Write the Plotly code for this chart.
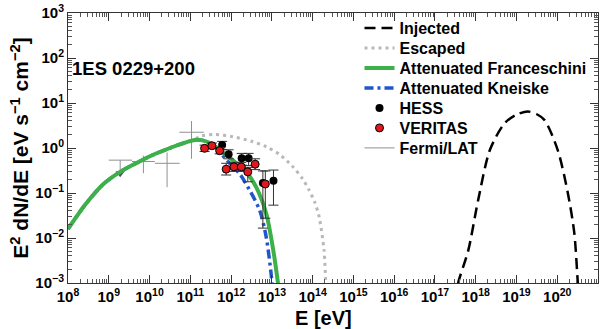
import numpy as np
import plotly.graph_objects as go

# values: log10(E [eV]) and log10(E^2 dN/dE)
franc_log_e = [8.0, 8.43, 8.87, 9.28, 9.69, 10.09, 10.5, 10.91, 11.11, 11.3, 11.5,
               11.72, 12.04, 12.37, 12.61, 12.86, 13.02, 13.15, 13.2]
franc_log_f = [-1.80, -1.25, -0.80, -0.53, -0.33, -0.15, 0.0, 0.13, 0.18, 0.17, 0.10,
               -0.04, -0.27, -0.53, -0.86, -1.45, -2.19, -3.0, -3.4]

kneis_log_e = [8.0, 8.43, 8.87, 9.28, 9.69, 10.09, 10.5, 10.91, 11.11, 11.3, 11.5,
               11.7, 11.88, 12.2, 12.45, 12.7, 12.86, 12.98, 13.03]
kneis_log_f = [-1.80, -1.25, -0.80, -0.53, -0.33, -0.15, 0.0, 0.13, 0.18, 0.17, 0.10,
               -0.06, -0.26, -0.56, -0.93, -1.38, -1.97, -2.78, -3.3]

esc_log_e = [8.0, 8.43, 8.87, 9.28, 9.69, 10.09, 10.5, 10.91, 11.11, 11.23, 11.6,
             12.04, 12.5, 12.86, 13.2, 13.51, 13.75, 13.91, 14.05, 14.16, 14.28, 14.32, 14.35]
esc_log_f = [-1.80, -1.25, -0.80, -0.53, -0.33, -0.15, 0.0, 0.13, 0.19, 0.26, 0.30,
             0.25, 0.15, 0.03, -0.15, -0.41, -0.68, -0.93, -1.2, -1.53, -2.27, -2.93, -3.3]

inj_log_e = [17.5, 17.57, 17.82, 18.06, 18.35, 18.71, 19.0, 19.28, 19.5, 19.69,
             20.01, 20.26, 20.42, 20.5, 20.53]
inj_log_f = [-3.4, -3.0, -2.27, -1.16, -0.04, 0.55, 0.74, 0.81, 0.75, 0.62,
             -0.04, -1.0, -1.9, -2.93, -3.3]

# HESS points
hess_log_e = [11.78, 11.94, 12.26, 12.43, 12.78, 13.04]
hess_log_f = [0.067, -0.14, -0.23, -0.23, -0.78, -0.73]
hess_up = [0.08, 0.10, 0.11, 0.11, 0.27, 0.24]
hess_dn = [0.10, 0.10, 0.15, 0.16, 1.0, 0.54]

# VERITAS points
ver_log_e = [11.35, 11.53, 11.72, 11.88, 12.07, 12.25, 12.41, 12.59, 12.84]
ver_log_f = [-0.007, 0.05, -0.06, -0.47, -0.42, -0.42, -0.53, -0.36, -0.80]
ver_up = [0.07, 0.06, 0.07, 0.13, 0.10, 0.10, 0.10, 0.12, 0.29]
ver_dn = [0.07, 0.06, 0.07, 0.13, 0.10, 0.10, 0.22, 0.12, 0.76]

# Fermi/LAT crosses (first one is an upper limit)
fermi_log_e = [9.28, 9.85, 10.43, 11.03]
fermi_log_e_lo = [9.0, 9.57, 10.13, 10.73]
fermi_log_e_hi = [9.57, 10.13, 10.74, 11.33]
fermi_log_f = [-0.27, -0.30, -0.34, 0.35]
fermi_log_f_lo = [-0.56, -0.56, -0.87, -0.24]
fermi_log_f_hi = [-0.27, -0.17, -0.10, 0.60]
fermi_ul = [True, False, False, False]

x_decades = list(range(8, 21))
y_decades = list(range(-3, 4))

p = lambda a: np.power(10.0, np.array(a, dtype=float))
pow_labels = lambda ds: ["10<sup>%s</sup>" % ("\u2212%d" % -d if d < 0 else d) for d in ds]

FONT = "Liberation Sans, Arial, sans-serif"

fig = go.Figure()

# Fermi crosses as segments
fx, fy = [], []
for i in range(len(fermi_log_e)):
    fx += [fermi_log_e_lo[i], fermi_log_e_hi[i], None, fermi_log_e[i], fermi_log_e[i], None]
    fy += [fermi_log_f[i], fermi_log_f[i], None, fermi_log_f_lo[i], fermi_log_f_hi[i], None]
fx = [None if v is None else 10 ** v for v in fx]
fy = [None if v is None else 10 ** v for v in fy]
fig.add_trace(go.Scatter(x=fx, y=fy, mode="lines", name="Fermi/LAT",
                         line=dict(color="#909090", width=1), legend="legend7"))
ul_e = [e for e, u in zip(fermi_log_e, fermi_ul) if u]
ul_f = [f for f, u in zip(fermi_log_f_lo, fermi_ul) if u]
fig.add_trace(go.Scatter(x=p(ul_e), y=p(ul_f), mode="markers", showlegend=False,
                         marker=dict(symbol="triangle-down", size=8, color="#555566")))

fig.add_trace(go.Scatter(x=p(esc_log_e), y=p(esc_log_f), mode="lines", name="Escaped",
                         line=dict(color="#b8b8b8", width=3, dash="3px,4px", shape="spline", smoothing=0.8),
                         legend="legend2"))
fig.add_trace(go.Scatter(x=p(kneis_log_e), y=p(kneis_log_f), mode="lines", name="Attenuated Kneiske",
                         line=dict(color="#2255cc", width=3.5, dash="9px,4px,3px,4px", shape="spline", smoothing=0.8),
                         legend="legend4"))
fig.add_trace(go.Scatter(x=p(franc_log_e), y=p(franc_log_f), mode="lines", name="Attenuated Franceschini",
                         line=dict(color="#3db049", width=4, shape="spline", smoothing=0.8),
                         legend="legend3"))
fig.add_trace(go.Scatter(x=p(inj_log_e), y=p(inj_log_f), mode="lines", name="Injected",
                         line=dict(color="black", width=2.5, dash="11px,6px", shape="spline", smoothing=0.8),
                         legend="legend"))

def errs(logf, up, dn):
    f = p(logf)
    return p(np.array(logf) + np.array(up)) - f, f - p(np.array(logf) - np.array(dn))

hu, hd = errs(hess_log_f, hess_up, hess_dn)
vu, vd = errs(ver_log_f, ver_up, ver_dn)

fig.add_trace(go.Scatter(x=p(hess_log_e), y=p(hess_log_f), mode="markers", name="HESS",
                         marker=dict(color="black", size=8),
                         error_y=dict(type="data", symmetric=False, array=hu, arrayminus=hd,
                                      color="#333333", thickness=1, width=5),
                         legend="legend5"))
fig.add_trace(go.Scatter(x=p(ver_log_e), y=p(ver_log_f), mode="markers", name="VERITAS",
                         marker=dict(color="#e4161b", size=8, line=dict(color="black", width=1)),
                         error_y=dict(type="data", symmetric=False, array=vu, arrayminus=vd,
                                      color="#333333", thickness=1, width=5),
                         legend="legend6"))

tickfont = dict(family=FONT, size=15, color="black", weight="bold")
axis_common = dict(type="log", automargin=False, tickangle=0,
                   ticks="inside", ticklen=8, tickcolor="#333", mirror="allticks",
                   showline=True, linecolor="#333", linewidth=1, showgrid=False, zeroline=False,
                   tickfont=tickfont, ticklabeloverflow="allow",
                   minor=dict(ticks="inside", ticklen=4, dtick="D1", tickcolor="#555", showgrid=False))

fig.update_layout(
    width=600, height=329,
    margin=dict(l=68, r=2, t=13, b=46, autoexpand=False),
    paper_bgcolor="white", plot_bgcolor="white",
    font=dict(family=FONT, color="black"),
    xaxis=dict(range=[8, 21], tickmode="array", tickvals=p(x_decades),
               ticktext=pow_labels(x_decades), **axis_common),
    yaxis=dict(range=[-3, 3], tickmode="array", tickvals=p(y_decades),
               ticktext=pow_labels(y_decades),
               title=dict(text="E<sup>2</sup> dN/dE [eV s<sup>\u22121</sup> cm<sup>\u22122</sup>]",
                          font=dict(family=FONT, size=21, weight="bold"), standoff=0),
               **axis_common),
    annotations=[
        dict(text="1ES 0229+200", xref="paper", yref="paper", x=0.003, y=0.793,
             xanchor="left", yanchor="middle", showarrow=False,
             font=dict(family=FONT, size=18.5, weight="bold", color="black")),
        dict(text="E [eV]", xref="paper", yref="paper", x=0.483, y=-0.13,
             xanchor="center", yanchor="middle", showarrow=False,
             font=dict(family=FONT, size=20, weight="bold", color="black")),
    ],
)

# one legend per entry so the rows sit 20 px apart
legend_rows = ["legend", "legend2", "legend3", "legend4", "legend5", "legend6", "legend7"]
row_px = [28, 48, 68, 88, 108, 128, 148]
for key, ypx in zip(legend_rows, row_px):
    fig.update_layout({key: dict(x=0.55, xanchor="left", y=(283 - ypx) / 270, yanchor="middle",
                                 bgcolor="rgba(0,0,0,0)", borderwidth=0, itemwidth=30,
                                 font=dict(family=FONT, size=16, weight="bold", color="black"))})

# drop the browser's default page margin so the figure starts at the window corner
fig.write_html("out.html", config={"displayModeBar": False},
               post_script="document.body.style.margin='0px';")
